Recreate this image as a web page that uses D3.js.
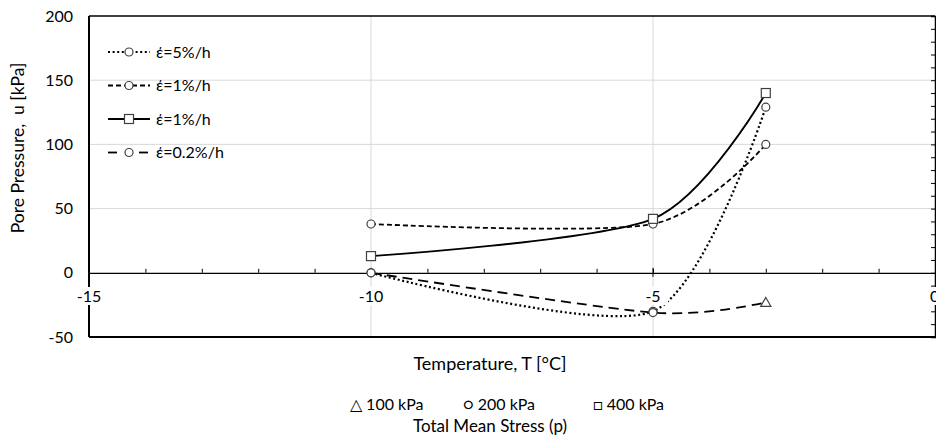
<!DOCTYPE html>
<html>
<head>
<meta charset="utf-8">
<script src="https://cdn.jsdelivr.net/npm/d3@7"></script>
<style>
  body { margin: 0; background: #fff; }
  text { font-family: Lato, "Open Sans", sans-serif; fill: #000; }
</style>
</head>
<body>
<svg id="chart" width="936" height="438"></svg>
<script>
// temperatures (x) and pore pressures (y)
const temps = [-10, -5, -3];
const rate5 = [0, -30, 129];
const rate1a = [38, 38, 100];
const rate1b = [13, 42, 140];
const rate02 = [0, -31, -23];

const xTicks = [-15, -10, -5, 0];
const yTicks = [-50, 0, 50, 100, 150, 200];
const legendLabels = ['έ=5%/h', 'έ=1%/h', 'έ=1%/h', 'έ=0.2%/h'];
const stressLabels = ['△ 100 kPa', '○ 200 kPa', '□ 400 kPa'];

const svg = d3.select('#chart');
const x = d3.scaleLinear().domain([-15, 0]).range([89, 935]);
const y = d3.scaleLinear().domain([-50, 200]).range([337, 16]);

// gridlines
const grid = svg.append('g').attr('stroke', '#d9d9d9').attr('stroke-width', 1);
[50, 100, 150].forEach(v => {
    grid.append('line').attr('x1', x(-15)).attr('x2', x(0)).attr('y1', y(v)).attr('y2', y(v));
});
[-10, -5].forEach(v => {
    grid.append('line').attr('x1', x(v)).attr('x2', x(v)).attr('y1', y(200)).attr('y2', y(-50));
});

// frame
svg.append('line').attr('x1', x(-15)).attr('x2', x(0)).attr('y1', y(200)).attr('y2', y(200))
    .attr('stroke', '#000').attr('stroke-width', 1.5);
svg.append('line').attr('x1', x(-15)).attr('x2', x(0)).attr('y1', y(-50)).attr('y2', y(-50))
    .attr('stroke', '#000').attr('stroke-width', 2);
svg.append('line').attr('x1', x(-15)).attr('x2', x(-15)).attr('y1', y(200)).attr('y2', y(-50))
    .attr('stroke', '#000').attr('stroke-width', 2);

// right edge with inward minor ticks
const right = svg.append('g').attr('transform', `translate(${x(0)},0)`);
right.call(d3.axisLeft(y).tickValues(d3.range(-50, 201, 10)).tickSize(4).tickFormat(''))
    .call(g => g.select('.domain').attr('stroke-width', 1.5));

// x axis at u = 0, minor ticks pointing up
const xAxis = svg.append('g').attr('transform', `translate(0,${y(0)})`);
xAxis.call(d3.axisTop(x).tickValues(d3.range(-14, 0, 1)).tickSize(4).tickFormat('').tickSizeOuter(0))
    .call(g => g.select('.domain').attr('stroke-width', 1.3));
[-10, -5].forEach(v => {
    xAxis.append('line').attr('x1', x(v)).attr('x2', x(v)).attr('y1', -5).attr('y2', 4).attr('stroke', '#000');
});

// y labels
svg.append('g').selectAll('text').data(yTicks).join('text')
    .attr('x', 73).attr('y', d => y(d)).attr('dy', '0.35em')
    .attr('text-anchor', 'end').attr('font-size', 16).text(d => d);

// series
const series = [
    { v: rate5, dash: '2,2.6', w: 2.2, marks: ['c', 'c', 'c'] },
    { v: rate1a, dash: '5,3', w: 1.8, marks: ['c', 'c', 'c'] },
    { v: rate1b, dash: null, w: 1.8, marks: ['s', 's', 's'] },
    { v: rate02, dash: '10,6', w: 1.8, marks: ['c', 'c', 't'] }
];

const line = d3.line().x(d => x(d[0])).y(d => y(d[1])).curve(d3.curveCardinal.tension(0.2));

series.forEach(s => {
    svg.append('path').datum(temps.map((t, i) => [t, s.v[i]]))
        .attr('d', line).attr('fill', 'none').attr('stroke', '#000')
        .attr('stroke-width', s.w).attr('stroke-dasharray', s.dash);
});

function marker(g, kind, cx, cy) {
    if (kind === 'c') {
        g.append('circle').attr('cx', cx).attr('cy', cy).attr('r', 4)
            .attr('fill', '#fff').attr('stroke', '#404040').attr('stroke-width', 1.2);
    } else if (kind === 's') {
        g.append('rect').attr('x', cx - 4.5).attr('y', cy - 4.5).attr('width', 9).attr('height', 9)
            .attr('fill', '#fff').attr('stroke', '#404040').attr('stroke-width', 1.2);
    } else {
        g.append('path').attr('d', d3.symbol(d3.symbolTriangle, 45)())
            .attr('transform', `translate(${cx},${cy + 1})`)
            .attr('fill', '#fff').attr('stroke', '#404040').attr('stroke-width', 1.2);
    }
}

const marks = svg.append('g');
series.forEach(s => {
    temps.forEach((t, i) => marker(marks, s.marks[i], x(t), y(s.v[i])));
});

// x tick labels with white backing
const xl = svg.append('g').selectAll('g').data(xTicks).join('g')
    .attr('transform', d => `translate(${x(d)},296)`);
xl.append('rect').attr('x', d => d === 0 ? -5 : -15).attr('y', -9)
    .attr('width', d => d === 0 ? 10 : 30).attr('height', 18).attr('fill', '#fff');
xl.append('text').attr('text-anchor', d => d === 0 ? 'start' : 'middle').attr('x', d => d === 0 ? -5 : 0)
    .attr('dy', '0.35em').attr('font-size', 16).text(d => d);

// legend
const legend = svg.append('g');
legendLabels.forEach((lab, i) => {
    const s = series[i];
    const ly = 52 + i * 33.5;
    const mk = i === 2 ? 's' : 'c';
    if (i === 3) {
        legend.append('line').attr('x1', 108).attr('x2', 117).attr('y1', ly).attr('y2', ly)
            .attr('stroke', '#000').attr('stroke-width', s.w);
        legend.append('line').attr('x1', 139).attr('x2', 148).attr('y1', ly).attr('y2', ly)
            .attr('stroke', '#000').attr('stroke-width', s.w);
    } else {
        legend.append('line').attr('x1', 108).attr('x2', 150).attr('y1', ly).attr('y2', ly)
            .attr('stroke', '#000').attr('stroke-width', s.w).attr('stroke-dasharray', s.dash);
    }
    marker(legend, mk, 129, ly);
    legend.append('text').attr('x', 156).attr('y', ly).attr('dy', '0.35em')
        .attr('font-size', 16).text(lab);
});

// axis titles
svg.append('text').attr('transform', 'translate(18,148) rotate(-90)')
    .attr('text-anchor', 'middle').attr('dy', '0.35em').attr('font-size', 17.5)
    .attr('xml:space', 'preserve').style('white-space', 'pre')
    .text('Pore Pressure,  u [kPa]');
svg.append('text').attr('x', 490).attr('y', 370).attr('text-anchor', 'middle')
    .attr('font-size', 18).text('Temperature, T [°C]');

const sx = [350, 463, 593];
svg.append('g').selectAll('text').data(stressLabels).join('text')
    .attr('x', (d, i) => sx[i]).attr('y', 410).attr('font-size', 16).text(d => d);
svg.append('text').attr('x', 490).attr('y', 432).attr('text-anchor', 'middle')
    .attr('font-size', 17).text('Total Mean Stress (p)');
</script>
</body>
</html>
